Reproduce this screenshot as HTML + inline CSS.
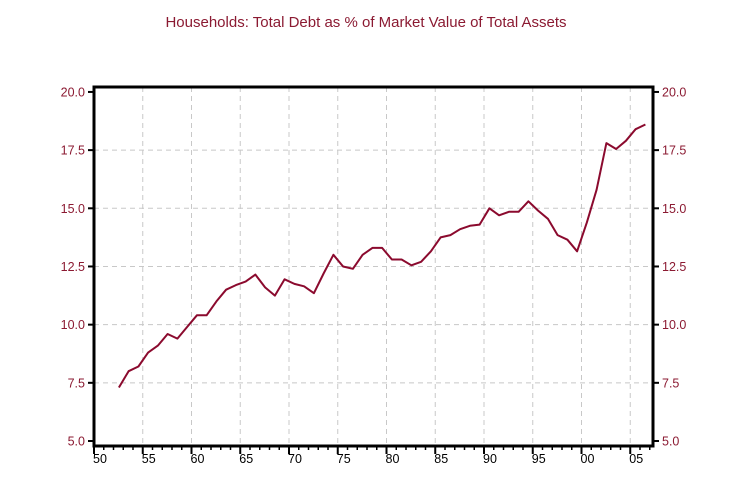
<!DOCTYPE html>
<html><head><meta charset="utf-8"><style>
body{margin:0;background:#fff;}
svg{display:block;font-family:"Liberation Sans",Arial,sans-serif;}
</style></head><body>
<svg id="chart" width="732" height="477">
<text x="366" y="27" text-anchor="middle" font-size="15" fill="#8b1a32">Households: Total Debt as % of Market Value of Total Assets</text>
<g id="grid"></g><g id="axes"></g><g id="series"></g>
</svg>
<script>
const years=[1952,1953,1954,1955,1956,1957,1958,1959,1960,1961,1962,1963,1964,1965,1966,1967,1968,1969,1970,1971,1972,1973,1974,1975,1976,1977,1978,1979,1980,1981,1982,1983,1984,1985,1986,1987,1988,1989,1990,1991,1992,1993,1994,1995,1996,1997,1998,1999,2000,2001,2002,2003,2004,2005,2006];
const values=[7.3,8.0,8.2,8.8,9.1,9.6,9.4,9.9,10.4,10.4,11.0,11.5,11.7,11.85,12.15,11.6,11.25,11.95,11.75,11.65,11.35,12.2,13.0,12.5,12.4,13.0,13.3,13.3,12.8,12.8,12.55,12.7,13.15,13.75,13.85,14.1,14.25,14.3,15.0,14.7,14.85,14.85,15.3,14.9,14.55,13.85,13.65,13.15,14.4,15.8,17.8,17.55,17.9,18.4,18.6];
const yTicks=[5,7.5,10,12.5,15,17.5,20];
const xTickYears=[1950,1955,1960,1965,1970,1975,1980,1985,1990,1995,2000,2005];
const xLabels=["50","55","60","65","70","75","80","85","90","95","00","05"];
const NS="http://www.w3.org/2000/svg";
const L=94,R=653,T=87,B=446;
function xs(y){return L+(y-1950)*9.75;}
function ys(v){return 441-(v-5)*23.27;}
function mk(tag,attrs,parent){const e=document.createElementNS(NS,tag);for(const k in attrs)e.setAttribute(k,attrs[k]);parent.appendChild(e);return e;}
const grid=document.getElementById('grid'),axes=document.getElementById('axes'),series=document.getElementById('series');
yTicks.forEach(v=>{
 const y=ys(v);
 if(v>5&&v<20){const g=mk('line',{x1:L,x2:R,y1:y,y2:y,stroke:'#c8c8c8','stroke-dasharray':'5,4'},grid);
 
 }
 mk('line',{x1:L-6,x2:L,y1:y,y2:y,stroke:'#000','stroke-width':2},axes);
 mk('line',{x1:R,x2:R+6,y1:y,y2:y,stroke:'#000','stroke-width':2},axes);
 const t1=mk('text',{x:L-9,y:y+4.5,'text-anchor':'end','font-size':12.5,fill:'#8b1a32'},axes);t1.textContent=v.toFixed(1);
 
 
 const t2=mk('text',{x:R+9,y:y+4.5,'font-size':12.5,fill:'#8b1a32'},axes);t2.textContent=v.toFixed(1);
 
 
});
xTickYears.forEach((yr,i)=>{
 const x=xs(yr);
 if(yr>1950){const g=mk('line',{x1:x,x2:x,y1:T,y2:B,stroke:'#c8c8c8','stroke-dasharray':'5,4'},grid);
 
 }
 mk('line',{x1:x,x2:x,y1:B,y2:B+8,stroke:'#000','stroke-width':2},axes);
 const t=mk('text',{x:x-1,y:B+17,'font-size':12.5,fill:'#000'},axes);t.textContent=xLabels[i];
 
 
});
for(let yr=1951;yr<=2007;yr++){if(yr%5)mk('line',{x1:xs(yr),x2:xs(yr),y1:B,y2:B+4,stroke:'#000','stroke-width':1.5},axes);}
const fr=mk('rect',{x:L,y:T,width:R-L,height:B-T,fill:'none',stroke:'#000','stroke-width':3},axes);


const pts=years.map((yr,i)=>xs(yr+0.55).toFixed(1)+','+ys(values[i]).toFixed(1)).join(' ');
const line=mk('polyline',{points:pts,fill:'none',stroke:'#8b0a2e','stroke-width':2,'stroke-linejoin':'round'},series);


</script>
</body></html>
